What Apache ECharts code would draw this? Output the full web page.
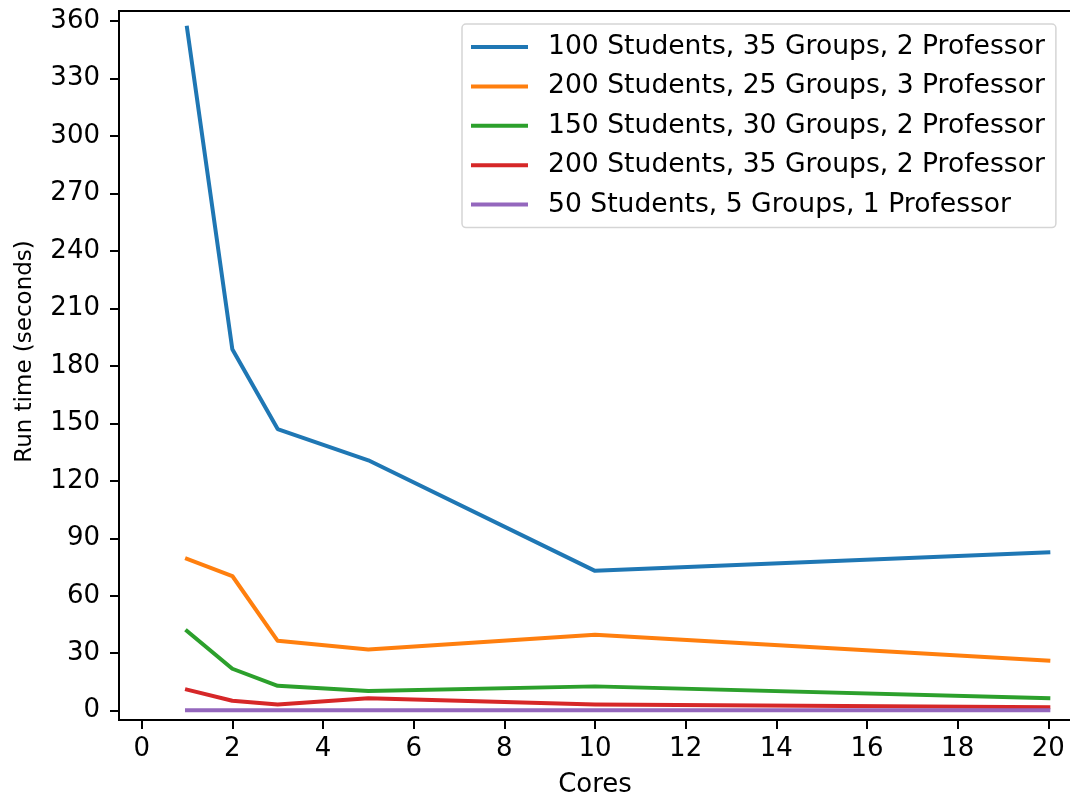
<!DOCTYPE html>
<html>
<head>
<meta charset="utf-8">
<script src="https://cdn.jsdelivr.net/npm/echarts@6/dist/echarts.min.js"></script>
<style>
  html, body { margin: 0; padding: 0; background: #fff; }
  #chart { width: 1070px; height: 800px; }
</style>
</head>
<body>
<div id="chart"></div>
<script>
// Core counts used for every run
const cores = [1, 2, 3, 5, 10, 20];

// Run time in seconds per configuration
const seriesNames = [
  '100 Students, 35 Groups, 2 Professor',
  '200 Students, 25 Groups, 3 Professor',
  '150 Students, 30 Groups, 2 Professor',
  '200 Students, 35 Groups, 2 Professor',
  '50 Students, 5 Groups, 1 Professor'
];
const run100s35g2p = [356.5, 188.7, 147.0, 130.7, 73.0, 82.6];
const run200s25g3p = [79.3, 70.3, 36.5, 32.0, 39.7, 26.1];
const run150s30g2p = [41.6, 21.9, 13.0, 10.3, 12.7, 6.5];
const run200s35g2p = [11.0, 5.2, 3.3, 6.5, 3.3, 1.8];
const run50s5g1p   = [0.2, 0.2, 0.2, 0.2, 0.2, 0.2];

// Axis tick positions
const xTicks = [0, 2, 4, 6, 8, 10, 12, 14, 16, 18, 20];
const yTicks = [0, 30, 60, 90, 120, 150, 180, 210, 240, 270, 300, 330, 360];

const colors = ['#1f77b4', '#ff7f0e', '#2ca02c', '#d62728', '#9467bd'];
const allRuns = [run100s35g2p, run200s25g3p, run150s30g2p, run200s35g2p, run50s5g1p];

const font = 'DejaVu Sans';

const chart = echarts.init(document.getElementById('chart'), null, { renderer: 'canvas' });

chart.setOption({
  animation: false,
  backgroundColor: '#fff',
  color: colors,
  grid: {
    left: 119, top: 11, width: 952, height: 709,
    outerBoundsMode: 'none',
    containLabel: false,
    show: true, borderColor: '#000', borderWidth: 2, backgroundColor: 'transparent'
  },
  legend: {
    orient: 'vertical',
    left: 462, top: 24,
    padding: [8, 11, 8, 9],
    itemWidth: 57, itemHeight: 4,
    itemGap: 9.4,
    icon: 'rect',
    backgroundColor: 'rgba(255,255,255,0.85)',
    borderColor: '#d5d5d5', borderWidth: 1.5, borderRadius: 4,
    textStyle: {
      fontFamily: font, fontSize: 26.6, color: '#000',
      lineHeight: 30, padding: [0, 0, 0, 15]
    },
    data: seriesNames
  },
  xAxis: {
    type: 'value',
    min: -0.5, max: 20.5,
    name: 'Cores',
    nameLocation: 'middle',
    nameGap: 52,
    nameTextStyle: { fontFamily: font, fontSize: 26, color: '#000' },
    axisLine: { show: true, onZero: false, lineStyle: { color: '#000', width: 2 } },
    axisTick: { show: true, length: 9, lineStyle: { color: '#000', width: 2 }, customValues: xTicks },
    axisLabel: { fontFamily: font, fontSize: 26, color: '#000', margin: 16, customValues: xTicks },
    splitLine: { show: false }
  },
  yAxis: {
    type: 'value',
    min: -4.85, max: 365.2,
    name: 'Run time (seconds)',
    nameLocation: 'middle',
    nameGap: 82,
    nameRotate: 90,
    nameTextStyle: { fontFamily: font, fontSize: 23, color: '#000', padding: [0, 0, 0, 28] },
    axisLine: { show: true, onZero: false, lineStyle: { color: '#000', width: 2 } },
    axisTick: { show: true, length: 9, lineStyle: { color: '#000', width: 2 }, customValues: yTicks },
    axisLabel: { fontFamily: font, fontSize: 26, color: '#000', margin: 19, customValues: yTicks },
    splitLine: { show: false }
  },
  series: allRuns.map((vals, i) => ({
    name: seriesNames[i],
    type: 'line',
    showSymbol: false,
    symbol: 'none',
    z: 2 + i,
    lineStyle: { width: 4, color: colors[i], cap: 'square', join: 'round' },
    itemStyle: { color: colors[i] },
    data: cores.map((c, j) => [c, vals[j]])
  }))
});
</script>
</body>
</html>
